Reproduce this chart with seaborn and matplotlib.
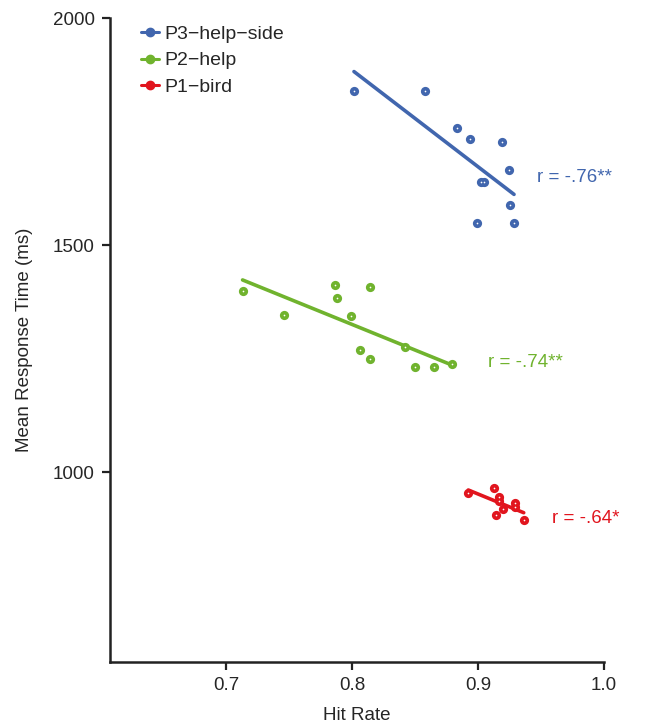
import numpy as np
import pandas as pd
import matplotlib.pyplot as plt
from matplotlib.lines import Line2D
import seaborn as sns

# data
p3_hit = [0.8016, 0.858, 0.8833, 0.8939, 0.9188, 0.9244, 0.9025, 0.905, 0.9256, 0.8992, 0.9286]
p3_rt = [1840, 1840, 1757, 1733, 1727, 1666, 1638, 1638, 1588, 1549, 1549]

p2_hit = [0.7132, 0.746, 0.7865, 0.7883, 0.8145, 0.7995, 0.8061, 0.8145, 0.842, 0.850, 0.8648, 0.8791]
p2_rt = [1398, 1346, 1412, 1383, 1407, 1344, 1270, 1250, 1275, 1232, 1232, 1238]

p1_hit = [0.8923, 0.9127, 0.9167, 0.917, 0.920, 0.914, 0.9294, 0.9294, 0.9363]
p1_rt = [955, 965, 946, 936, 918, 906, 933, 924, 894]

labels = ['P3\u2212help\u2212side', 'P2\u2212help', 'P1\u2212bird']
r_texts = ['r = -.76**', 'r = -.74**', 'r = -.64*']
colors = ['#4166ae', '#70b32e', '#e1151e']

df = pd.concat([
    pd.DataFrame({'hit': p3_hit, 'rt': p3_rt, 'cond': labels[0]}),
    pd.DataFrame({'hit': p2_hit, 'rt': p2_rt, 'cond': labels[1]}),
    pd.DataFrame({'hit': p1_hit, 'rt': p1_rt, 'cond': labels[2]}),
])

sns.set_style('ticks')
plt.rcParams['font.family'] = ['Liberation Sans', 'DejaVu Sans']

fig = plt.figure(figsize=(6.52, 7.23), dpi=100)
ax = fig.add_axes([0.1687, 0.0844, 0.7577, 0.8906])

for lab, col in zip(labels, colors):
    sub = df[df['cond'] == lab]
    sns.regplot(data=sub, x='hit', y='rt', ax=ax, ci=None, color=col,
                scatter_kws={'s': 44, 'alpha': 1, 'linewidths': 0, 'zorder': 3},
                line_kws={'lw': 2.6, 'zorder': 2})
    # small white centre dot in each marker
    ax.scatter(sub['hit'], sub['rt'], s=1.5, color='white', zorder=4, linewidths=0)

# correlation labels
ax.text(0.947, 1650, r_texts[0], color=colors[0], fontsize=13.5, va='center')
ax.text(0.908, 1242, r_texts[1], color=colors[1], fontsize=13.5, va='center')
ax.text(0.959, 899, r_texts[2], color=colors[2], fontsize=13.5, va='center')

ax.set_xlim(0.608, 1.0)
ax.set_ylim(582, 2000)
ax.set_xticks([0.7, 0.8, 0.9, 1.0])
ax.set_xticklabels(['0.7', '0.8', '0.9', '1.0'])
ax.set_yticks([1000, 1500, 2000])
ax.set_xlabel('Hit Rate', fontsize=13.5, labelpad=9)
ax.set_ylabel('Mean Response Time (ms)', fontsize=13.5, labelpad=14)
ax.tick_params(labelsize=13.5, length=6, width=1.6, color='#222222', pad=5)

sns.despine(ax=ax)
for s in ['left', 'bottom']:
    ax.spines[s].set_linewidth(1.8)
    ax.spines[s].set_color('#222222')

handles = [Line2D([0], [0], color=c, lw=2.2, marker='o', markersize=6) for c in colors]
ax.legend(handles, labels, loc='upper left', bbox_to_anchor=(0.028, 1.016), frameon=False,
          fontsize=14, handlelength=0.9, handletextpad=0.3, labelspacing=0.46)

fig.savefig('out.png', dpi=100)
